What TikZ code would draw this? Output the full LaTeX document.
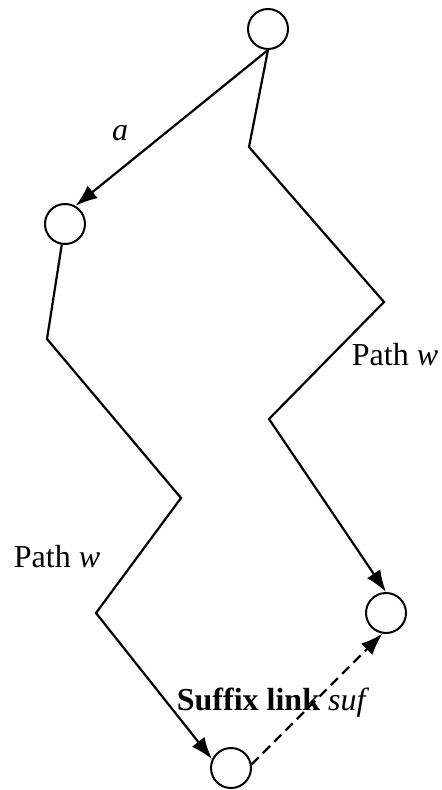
\documentclass[tikz,border=0pt]{standalone}
\usepackage{fontspec}
\setmainfont{Liberation Serif}
\usepackage{tikz}
\usetikzlibrary{arrows.meta}

\begin{document}
\begin{tikzpicture}[
  x=0.5pt, y=-0.5pt,
  font=\fontsize{16}{19}\selectfont,
  state/.style={circle, draw, line width=1pt, minimum size=20pt,
                inner sep=0pt, fill=white},
  edge/.style={line width=1.1pt, line join=miter},
  arr/.style={edge, -{Latex[length=11pt, width=8pt]}},
  lbl/.style={inner sep=1pt}
]
\useasboundingbox (0,0) rectangle (442,790);

% ---- States ----
\node[state] (top)   at (268,29)  {};
\node[state] (left)  at (65,224)  {};
\node[state] (right) at (386,613) {};
\node[state] (bot)   at (231,768) {};

% ---- Bends of the two paths ----
\coordinate (r1) at (249,147);
\coordinate (r2) at (384,302);
\coordinate (r3) at (269,419);
\coordinate (l1) at (47,339);
\coordinate (l2) at (181,498);
\coordinate (l3) at (96,613);

% ---- Edges ----
\draw[arr] (top.south) -- (left.60);
\draw[arr] (top.south) -- (r1) -- (r2) -- (r3) -- (right.north);
\draw[arr] (left) -- (l1) -- (l2) -- (l3) -- (bot.155);
\draw[arr, dashed, dash pattern=on 5pt off 3pt] (bot.10) -- (right.-100);

% ---- Labels ----
\node[lbl] (alab)  at (120,133) {\textit{a}};
\node[lbl] (pathr) at (395,355) {Path \textit{w}};
\node[lbl] (pathl) at (57,557)  {Path \textit{w}};
\node[lbl] (suf)   at (273,703) {\textbf{Suffix link} \textit{suf}};

\end{tikzpicture}
\end{document}
